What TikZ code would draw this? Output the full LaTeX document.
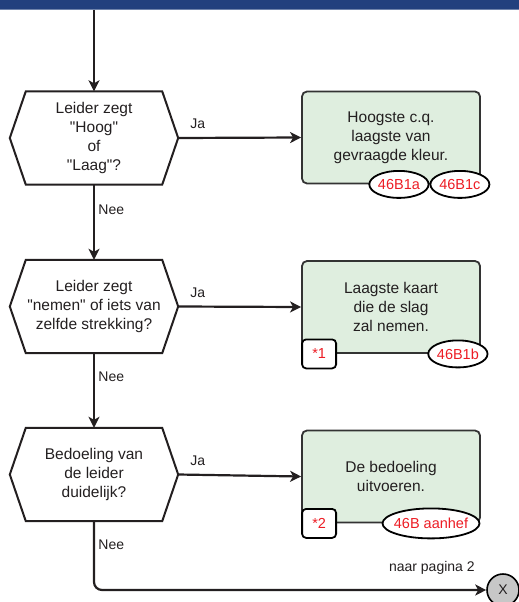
\documentclass[tikz,border=0pt]{standalone}
\usepackage{fontspec}
\setmainfont{Liberation Sans}
\usepackage{xcolor}
\usepackage{tikz}
\usetikzlibrary{arrows.meta,shapes.geometric,positioning}

\definecolor{kopblauw}{RGB}{34,64,126}
\definecolor{kaderrand}{RGB}{51,51,51}
\definecolor{vakgroen}{RGB}{223,238,223}
\definecolor{refrood}{RGB}{237,28,36}
\definecolor{tekst}{RGB}{35,31,32}

\tikzset{
  vraag/.style={rectangle, minimum width=136pt, minimum height=93pt, inner sep=0pt,
    align=center, text=tekst, font=\fontsize{15.5}{19}\selectfont},
  rand/.style={line width=2pt, draw=tekst, line join=miter},
  actie/.style={rectangle, rounded corners=5pt, draw=kaderrand, line width=1.8pt,
    fill=vakgroen, minimum width=178pt, minimum height=92pt, align=center,
    text=tekst, font=\fontsize{15.5}{19}\selectfont},
  ref/.style={ellipse, draw=black, line width=1.8pt, fill=white, text=refrood,
    inner sep=0pt, minimum width=59pt, minimum height=27pt,
    font=\fontsize{14.5}{17}\selectfont},
  noot/.style={rectangle, rounded corners=4pt, draw=black, line width=1.8pt,
    fill=white, text=refrood, minimum width=34pt, minimum height=29pt,
    inner sep=0pt, font=\fontsize{14.5}{17}\selectfont},
  lijn/.style={line width=2.2pt, draw=tekst,
    -{Stealth[length=11pt,width=11pt,inset=3pt]}},
  lbl/.style={text=tekst, font=\fontsize{14}{17}\selectfont},
}

\begin{document}
\begin{tikzpicture}[x=1pt, y=-1pt, line cap=butt]

  \useasboundingbox (0,0) rectangle (519,602);

  % kopbalk
  \fill[kopblauw] (0,0) rectangle (519,9);
  \draw[kopblauw!65!white, line width=1pt] (0,9.5) -- (519,9.5);

  \coordinate (begin) at (94,10);

  % vragen
  \node[vraag] (q1) at (94,138)   {Leider zegt\\\textquotedbl Hoog\textquotedbl\\of\\\textquotedbl Laag\textquotedbl ?};
  \node[vraag] (q2) at (94,306.5) {Leider zegt\\\textquotedbl nemen\textquotedbl{} of iets van\\zelfde strekking?};
  \node[vraag] (q3) at (94,474.5) {Bedoeling van\\de leider\\duidelijk?};

  \foreach \v in {q1,q2,q3} {
    \draw[rand] (\v.north west) -- (\v.north east) -- ([xshift=16pt]\v.east)
      -- (\v.south east) -- (\v.south west) -- ([xshift=-16pt]\v.west) -- cycle;
    \coordinate (\v r) at ([xshift=16pt]\v.east);
  }

  % acties
  \node[actie] (a1) at (391,137.5) {Hoogste c.q.\\laagste van\\gevraagde kleur.};
  \node[actie] (a2) at (391,307)   {Laagste kaart\\die de slag\\zal nemen.};
  \node[actie] (a3) at (391,476.5) {De bedoeling\\uitvoeren.};

  \node[circle, draw=black, line width=1.6pt, fill=black!22, minimum size=32pt,
    inner sep=0pt, lbl] (uit) at (503,590) {X};

  % verbindingen
  \draw[lijn] (begin) -- (q1.north);
  \draw[lijn] (q1r) -- node[lbl, pos=0.16, above=5pt] {Ja} (a1.west);
  \draw[lijn] (q2r) -- node[lbl, pos=0.16, above=5pt] {Ja} (a2.west);
  \draw[lijn] (q3r) -- node[lbl, pos=0.16, above=5pt] {Ja} (a3.west);
  \draw[lijn] (q1.south) -- node[lbl, pos=0.33, right] {Nee} (q2.north);
  \draw[lijn] (q2.south) -- node[lbl, pos=0.32, right] {Nee} (q3.north);
  \draw[lijn, rounded corners=8pt] (q3.south) |- node[lbl, pos=0.17, right] {Nee} (uit.west);

  \node[lbl, above left=12pt and 8pt of uit.west] (naar) {naar pagina 2};

  % verwijzingen
  \node[ref] (r1c) at ([xshift=-21pt]a1.south east) {46B1c};
  \node[ref, left=0pt of r1c] (r1a) {46B1a};
  \node[ref] (r2) at ([xshift=-23pt]a2.south east) {46B1b};
  \node[ref, inner xsep=-8pt, minimum width=97pt, minimum height=30pt, anchor=east]
    (r3) at ([xshift=-0.5pt]a3.south east) {46B aanhef};
  \node[noot] (n1) at ([xshift=18pt]a2.south west) {*1};
  \node[noot] (n2) at ([xshift=18pt]a3.south west) {*2};

\end{tikzpicture}
\end{document}
